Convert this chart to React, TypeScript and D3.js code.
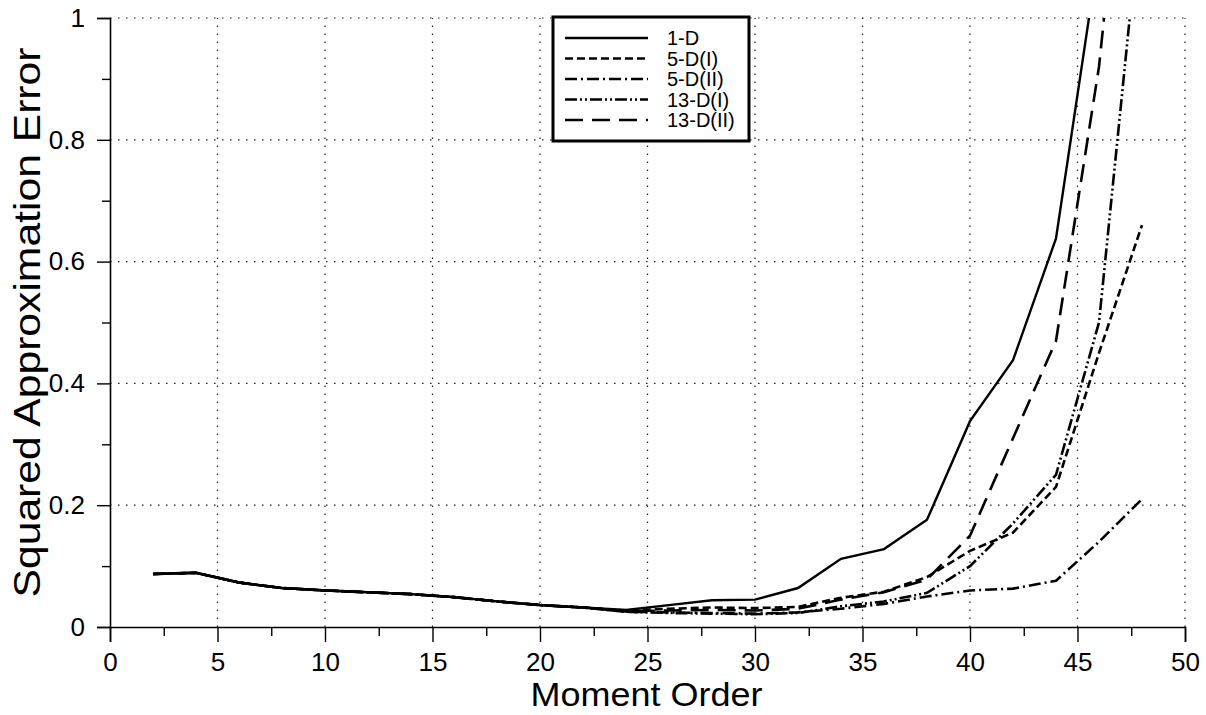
import React, { useRef, useEffect } from 'react';
import * as d3 from 'd3';

// moment order (x) and squared approximation error per method
const order = [2, 4, 6, 8, 10, 12, 14, 16, 18, 20, 22, 24, 26, 28, 30, 32, 34, 36, 38, 40, 42, 44, 46, 48];

const err1D = [0.087, 0.089, 0.073, 0.064, 0.060, 0.057, 0.054, 0.049, 0.042, 0.036, 0.032, 0.028, 0.036, 0.044, 0.045, 0.064, 0.112, 0.128, 0.176, 0.338, 0.438, 0.638, 1.11, 1.6];
const err5DI = [0.087, 0.089, 0.073, 0.064, 0.060, 0.057, 0.054, 0.049, 0.042, 0.036, 0.032, 0.027, 0.030, 0.032, 0.031, 0.033, 0.048, 0.058, 0.082, 0.125, 0.155, 0.23, 0.45, 0.66];
const err5DII = [0.087, 0.089, 0.073, 0.064, 0.060, 0.057, 0.054, 0.049, 0.042, 0.036, 0.032, 0.025, 0.024, 0.023, 0.022, 0.024, 0.030, 0.038, 0.050, 0.060, 0.063, 0.076, 0.14, 0.21];
const err13DI = [0.087, 0.089, 0.073, 0.064, 0.060, 0.057, 0.054, 0.049, 0.042, 0.036, 0.032, 0.025, 0.023, 0.022, 0.021, 0.023, 0.034, 0.042, 0.056, 0.100, 0.170, 0.25, 0.50, 1.2];
const err13DII = [0.087, 0.089, 0.073, 0.064, 0.060, 0.057, 0.054, 0.049, 0.042, 0.036, 0.032, 0.026, 0.027, 0.028, 0.027, 0.030, 0.045, 0.057, 0.078, 0.150, 0.310, 0.47, 0.92, 1.6];

const seriesNames = ['1-D', '5-D(I)', '5-D(II)', '13-D(I)', '13-D(II)'];
const dashes = ['none', '8,4', '12,4,2,4', '12,3,2,3,2,3', '18,9'];

const xMajor = [0, 5, 10, 15, 20, 25, 30, 35, 40, 45, 50];
const xMinor = [2.5, 7.5, 12.5, 17.5, 22.5, 27.5, 32.5, 37.5, 42.5, 47.5];
const yMajor = [0, 0.2, 0.4, 0.6, 0.8, 1];
const yMinor = [0.1, 0.3, 0.5, 0.7, 0.9];

const FONT = '"Liberation Sans", Arial, Helvetica, sans-serif';

const App: React.FC = () => {
  const svgRef = useRef<SVGSVGElement | null>(null);

  useEffect(() => {
    if (!svgRef.current) return;
    const width = 1206;
    const height = 715;
    const left = 110, right = 1185, top = 18, bottom = 627;

    const svg = d3.select(svgRef.current)
      .attr('width', width)
      .attr('height', height);
    svg.selectAll('*').remove();

    svg.append('rect').attr('width', width).attr('height', height).attr('fill', 'white');

    const x = d3.scaleLinear().domain([0, 50]).range([left, right]);
    const y = d3.scaleLinear().domain([0, 1]).range([bottom, top]);

    // dotted grid
    const grid = svg.append('g')
      .attr('stroke', '#222')
      .attr('stroke-width', 1.2)
      .attr('stroke-dasharray', '1.5,6.5');
    grid.selectAll('line.gx')
      .data(xMajor.filter(d => d > 0))
      .enter().append('line')
      .attr('x1', d => x(d)).attr('x2', d => x(d))
      .attr('y1', y(0)).attr('y2', y(1));
    grid.selectAll('line.gy')
      .data(yMajor.filter(d => d > 0))
      .enter().append('line')
      .attr('x1', x(0)).attr('x2', x(50))
      .attr('y1', d => y(d)).attr('y2', d => y(d));

    // axes
    const yAxis = svg.append('g')
      .attr('transform', `translate(${left},0)`)
      .call(d3.axisLeft(y).tickValues(yMajor).tickSize(13).tickPadding(12).tickFormat(d => String(d)));
    svg.append('g')
      .attr('transform', `translate(${left},0)`)
      .call(d3.axisLeft(y).tickValues(yMinor).tickSize(8).tickFormat(() => ''))
      .select('.domain').remove();
    const xAxis = svg.append('g')
      .attr('transform', `translate(0,${bottom})`)
      .call(d3.axisBottom(x).tickValues(xMajor).tickSize(15).tickPadding(11).tickFormat(d => String(d)));
    svg.append('g')
      .attr('transform', `translate(0,${bottom})`)
      .call(d3.axisBottom(x).tickValues(xMinor).tickSize(9).tickFormat(() => ''))
      .select('.domain').remove();

    svg.selectAll('.domain').attr('stroke', '#000').attr('stroke-width', 1.6);
    svg.selectAll('.tick line').attr('stroke', '#000').attr('stroke-width', 1.4);
    [yAxis, xAxis].forEach(a => a.selectAll('text')
      .attr('font-family', FONT)
      .attr('font-size', 26)
      .attr('fill', '#000'));

    // axis titles
    svg.append('text')
      .attr('x', (left + right) / 2 - 1)
      .attr('y', 706)
      .attr('text-anchor', 'middle')
      .attr('font-family', FONT)
      .attr('font-size', 34)
      .attr('textLength', 232)
      .attr('lengthAdjust', 'spacingAndGlyphs')
      .text('Moment Order');
    svg.append('text')
      .attr('transform', `translate(40,${(top + bottom) / 2}) rotate(-90)`)
      .attr('text-anchor', 'middle')
      .attr('font-family', FONT)
      .attr('font-size', 36)
      .attr('textLength', 550)
      .attr('lengthAdjust', 'spacingAndGlyphs')
      .text('Squared Approximation Error');

    // curves
    svg.append('clipPath').attr('id', 'plot-clip')
      .append('rect')
      .attr('x', left).attr('y', top)
      .attr('width', right - left).attr('height', bottom - top);

    const all = [err1D, err5DI, err5DII, err13DI, err13DII];
    const line = d3.line<number>()
      .x((_, i) => x(order[i]))
      .y(d => y(d));

    const curves = svg.append('g').attr('clip-path', 'url(#plot-clip)');
    all.forEach((vals, i) => {
      curves.append('path')
        .attr('d', line(vals))
        .attr('fill', 'none')
        .attr('stroke', '#000')
        .attr('stroke-width', i === 0 ? 2.4 : 2.6)
        .attr('stroke-dasharray', dashes[i]);
    });

    // legend
    const lg = svg.append('g');
    lg.append('rect')
      .attr('x', 553).attr('y', 17)
      .attr('width', 196).attr('height', 124)
      .attr('fill', 'white')
      .attr('stroke', '#000')
      .attr('stroke-width', 3);
    seriesNames.forEach((name, i) => {
      const ly = 38 + i * 20.5;
      lg.append('line')
        .attr('x1', 565).attr('x2', 648)
        .attr('y1', ly).attr('y2', ly)
        .attr('stroke', '#000')
        .attr('stroke-width', 2.4)
        .attr('stroke-dasharray', dashes[i]);
      lg.append('text')
        .attr('x', 667).attr('y', ly + 7)
        .attr('font-family', FONT)
        .attr('font-size', 20)
        .text(name);
    });
  }, []);

  return (
    <svg ref={svgRef} style={{ position: 'absolute', left: 0, top: 0, display: 'block' }}></svg>
  );
};

export default App;
